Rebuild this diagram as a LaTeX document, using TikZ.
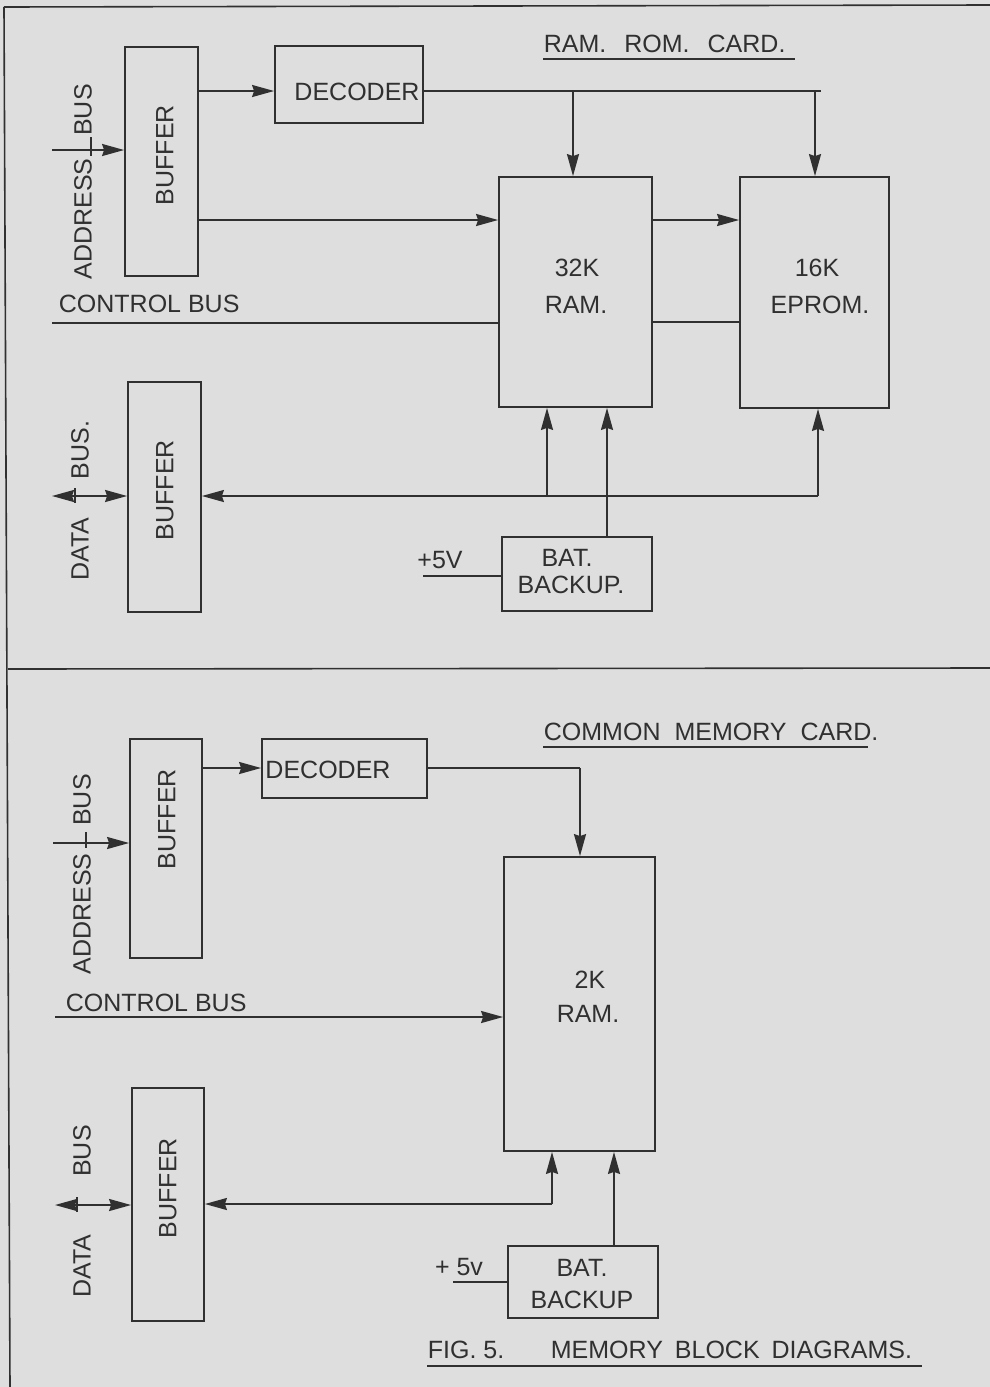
\documentclass[tikz,border=0pt]{standalone}
\usepackage{fontspec}
\setmainfont{Liberation Sans}
\usetikzlibrary{arrows.meta}
\definecolor{paper}{RGB}{222,222,222}
\definecolor{ink}{RGB}{48,48,48}
\newcommand{\lblfont}{\fontsize{25}{30}\selectfont}
\begin{document}
\begin{tikzpicture}[x=1pt,y=-1pt, line width=1.8pt, color=ink,
  blk/.style={draw=ink, line width=1.8pt, inner sep=0pt, rectangle},
  txt/.style={font=\lblfont, inner sep=0pt, text=ink},
  vtxt/.style={txt, rotate=90},
  arr/.style={-{Stealth[length=22pt,width=12pt,inset=2pt]}},
  dblarr/.style={{Stealth[length=22pt,width=12pt,inset=2pt]}-{Stealth[length=22pt,width=12pt,inset=2pt]}},
]
\fill[paper] (0,0) rectangle (990,1387);
\useasboundingbox (0,0) rectangle (990,1387);

% frame
\draw[line width=1.6pt] (4,7) -- (990,5);
\draw[line width=1.6pt] (4,7) -- (10,1387);
\draw[line width=1.6pt] (8,669) -- (990,668);

% ================= TOP PANEL: RAM. ROM. CARD. =================
\node[txt, anchor=west] (title1) at (543,44) {RAM.\hspace{18pt}ROM.\hspace{18pt}CARD.};
\draw[line width=1.4pt] (543,59) -- (795,59);

\node[blk, minimum width=73pt, minimum height=229pt] (buf1) at (161.5,161.5) {};
\node[vtxt] (buf1t) at (165,155) {BUFFER};
\node[blk, minimum width=148pt, minimum height=77pt] (dec1) at (349,84.5) {};
\node[txt] (dec1t) at (357,92) {DECODER};
\node[blk, minimum width=153pt, minimum height=230pt] (ram1) at (575.5,292) {};
\node[txt] (ram1a) at (577,268) {32K};
\node[txt] (ram1b) at (576,305) {RAM.};
\node[blk, minimum width=149pt, minimum height=231pt] (eprom) at (814.5,292.5) {};
\node[txt] (eproma) at (817,268) {16K};
\node[txt] (epromb) at (820,305) {EPROM.};

% address bus
\node[vtxt] (addr1) at (83,219) {ADDRESS};
\node[vtxt] (addr1b) at (83,110) {BUS};
\coordinate (ab1) at (52,150);
\draw[arr] (ab1) -- (ab1 -| buf1.west);
\draw[line width=1.4pt] (91,137) -- (91,156);

% buffer -> decoder, buffer -> RAM -> EPROM
\draw[arr] (buf1.east |- 0,91) -- (dec1.west |- 0,91);
\draw[arr] (buf1.east |- 0,220) -- (ram1.west |- 0,220);
\draw[arr] (ram1.east |- 0,220) -- (eprom.west |- 0,220);

% decoder outputs
\coordinate (dj1) at (573,91);
\coordinate (dj2) at (815,91);
\draw (dec1.east |- 0,91) -- (821,91);
\draw[arr] (dj1) -- (ram1.north -| dj1);
\draw[arr] (dj2) -- (eprom.north -| dj2);

% control bus
\node[txt, anchor=west] (cb1) at (58,304) {CONTROL BUS};
\coordinate (cb1s) at (52,323);
\draw (cb1s) -- (cb1s -| ram1.west);
\draw (ram1.east |- 0,322) -- (eprom.west |- 0,322);

% data bus
\node[blk, minimum width=73pt, minimum height=230pt] (buf2) at (164.5,497) {};
\node[vtxt] (buf2t) at (165,490) {BUFFER};
\node[vtxt] (data1) at (80,549) {DATA};
\node[vtxt] (data1b) at (80,450) {BUS.};
\coordinate (db1) at (52,496);
\draw[dblarr] (db1) -- (db1 -| buf2.west);
\draw[line width=1.4pt] (75,488) -- (75,503);

\coordinate (dr1) at (818,496);
\coordinate (dr2) at (547,496);
\draw[arr] (dr1) -- (dr1 -| buf2.east);
\draw[arr] (dr1) -- (eprom.south -| dr1);
\draw[arr] (dr2) -- (ram1.south -| dr2);

% battery backup
\node[blk, minimum width=150pt, minimum height=74pt] (bat1) at (577,574) {};
\node[txt] (bat1a) at (567,558) {BAT.};
\node[txt] (bat1b) at (571,585) {BACKUP.};
\draw[arr] (bat1.north -| 607,0) -- (ram1.south -| 607,0);
\node[txt] (v1) at (440,560) {+5V};
\coordinate (v1s) at (423,576);
\draw (v1s) -- (v1s -| bat1.west);

% ================= BOTTOM PANEL: COMMON MEMORY CARD. =================
\node[txt, anchor=west] (title2) at (543,732) {COMMON\hspace{14pt}MEMORY\hspace{14pt}CARD.};
\draw[line width=1.4pt] (543,747) -- (868,747);

\node[blk, minimum width=72pt, minimum height=219pt] (buf3) at (166,848.5) {};
\node[vtxt] (buf3t) at (167,819) {BUFFER};
\node[blk, minimum width=165pt, minimum height=59pt] (dec2) at (344.5,768.5) {};
\node[txt] (dec2t) at (328,770) {DECODER};
\node[blk, minimum width=151pt, minimum height=294pt] (ram2) at (579.5,1004) {};
\node[txt] (ram2a) at (590,980) {2K};
\node[txt] (ram2b) at (588,1014) {RAM.};

% address bus
\node[vtxt] (addr2) at (82,914) {ADDRESS};
\node[vtxt] (addr2b) at (82,800) {BUS};
\coordinate (ab2) at (53,843);
\draw[arr] (ab2) -- (ab2 -| buf3.west);
\draw[line width=1.4pt] (86,832) -- (86,848);

\draw[arr] (buf3.east |- 0,768) -- (dec2.west |- 0,768);
\coordinate (dk) at (580,768);
\draw (dec2.east |- dk) -- (dk);
\draw[arr] (dk) -- (ram2.north -| dk);

% control bus
\node[txt, anchor=west] (cb2) at (65,1003) {CONTROL BUS};
\coordinate (cb2s) at (55,1017);
\draw[arr] (cb2s) -- (cb2s -| ram2.west);

% data bus
\node[blk, minimum width=72pt, minimum height=233pt] (buf4) at (168,1204.5) {};
\node[vtxt] (buf4t) at (168,1188) {BUFFER};
\node[vtxt] (data2) at (82,1266) {DATA};
\node[vtxt] (data2b) at (82,1151) {BUS};
\coordinate (db2) at (55,1205);
\draw[dblarr] (db2) -- (db2 -| buf4.west);
\draw[line width=1.4pt] (77,1197) -- (77,1212);

\coordinate (dr3) at (552,1204);
\draw[arr] (dr3) -- (dr3 -| buf4.east);
\draw[arr] (dr3) -- (ram2.south -| dr3);

% battery backup
\node[blk, minimum width=150pt, minimum height=72pt] (bat2) at (583,1282) {};
\node[txt] (bat2a) at (582,1268) {BAT.};
\node[txt] (bat2b) at (582,1300) {BACKUP};
\draw[arr] (bat2.north -| 614,0) -- (ram2.south -| 614,0);
\node[txt] (v2) at (459,1267) {+ 5v};
\coordinate (v2s) at (453,1282);
\draw (v2s) -- (v2s -| bat2.west);

% caption
\node[txt, anchor=west] (fig) at (427,1350) {FIG. 5.};
\node[txt, anchor=west] (capt) at (550,1350) {MEMORY\hspace{12pt}BLOCK\hspace{12pt}DIAGRAMS.};
\draw[line width=1.4pt] (427,1366) -- (922,1366);
\end{tikzpicture}
\end{document}
